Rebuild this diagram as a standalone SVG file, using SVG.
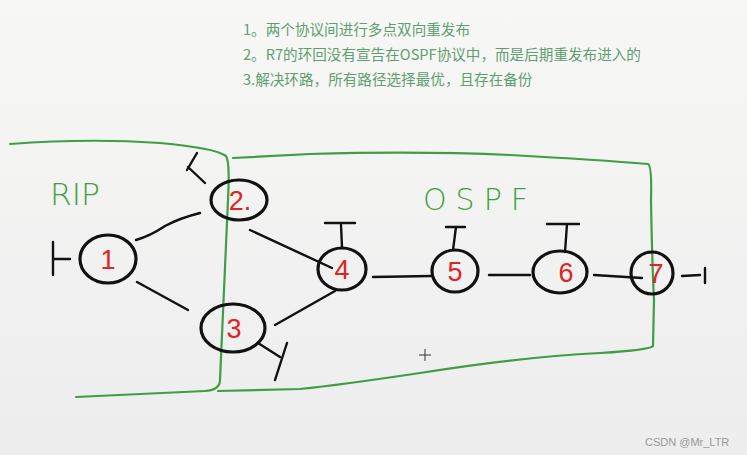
<svg xmlns="http://www.w3.org/2000/svg" width="747" height="455" viewBox="0 0 747 455">
<defs>
<linearGradient id="bg" x1="0" y1="0" x2="0" y2="1">
<stop offset="0" stop-color="#f7f7f6"/>
<stop offset="1" stop-color="#ecedec"/>
</linearGradient>
</defs>
<style>
.note{font-family:"Noto Sans CJK SC","Noto Sans",sans-serif;font-size:14.6px;fill:#5e9e70}
.area{fill:none;stroke:#3f9e44;stroke-width:2.2;stroke-linejoin:round;stroke-linecap:round}
.alabel{font-family:"DejaVu Sans",sans-serif;font-size:30px;fill:#3f9e44;font-weight:200}
.node ellipse{fill:none;stroke:#111;stroke-width:3.2}
.node text{font-family:"Liberation Sans",sans-serif;font-size:27px;fill:#e02323;text-anchor:middle}
.link{fill:none;stroke:#111;stroke-width:2.4;stroke-linecap:round}
.wm{font-family:"Liberation Sans",sans-serif;font-size:11px;fill:#999}
</style>
<rect width="747" height="455" fill="url(#bg)"/>
<g id="notes">
<text class="note" x="243" y="35">1。两个协议间进行多点双向重发布</text>
<text class="note" x="243" y="60">2。R7的环回没有宣告在OSPF协议中，而是后期重发布进入的</text>
<text class="note" x="243" y="85">3.解决环路，所有路径选择最优，且存在备份</text>
</g>
<g id="areas">
<path id="rip-area" class="area" d="M10,144 Q90,138 160,143 Q215,148 226,156 Q230,162 228,200 L220,380 Q220,390 205,391 L76,397"/>
<path id="ospf-area" class="area" d="M233,158 L310,154 Q420,151 510,155 Q600,160 648,164 Q652,166 651,200 Q652,260 654,300 L653,346 Q650,350 600,353 Q520,357 420,373 Q340,385 300,389 L218,391"/>
<text class="alabel" x="50" y="205" textLength="50" lengthAdjust="spacingAndGlyphs">RIP</text>
<text class="alabel" x="423" y="210" textLength="105" lengthAdjust="spacing">OSPF</text>
</g>
<g id="connectors">
<path class="link" d="M136,240 Q150,236 165,226 Q180,218 200,213"/>
<path class="link" d="M137,282 L188,310"/>
<path class="link" d="M250,230 L332,268"/>
<path class="link" d="M275,325 L335,291"/>
<path class="link" d="M373,277 L431,276"/>
<path class="link" d="M489,275 L530,275"/>
<path class="link" d="M594,275 L642,278"/>
<path class="link" d="M682,276 L700,275 M705,268 L705,283"/>
<path class="link" d="M70,259 L53,259 M53,242 L53,275"/>
<path class="link" d="M205,183 L188,167 M187,170 L197,153"/>
<path class="link" d="M258,343 L280,357 M287,343 L275,380"/>
<path class="link" d="M342,247 L341,225 M325,223 L355,223"/>
<path class="link" d="M453,250 L456,227 M446,227 L465,227"/>
<path class="link" d="M565,252 L567,224 M547,224 L579,224"/>
</g>
<g id="r1" class="node"><ellipse cx="108" cy="259" rx="28" ry="24"/><text x="108" y="269">1</text></g>
<g id="r2" class="node"><ellipse cx="239" cy="200" rx="28" ry="20"/><text x="240" y="210">2.</text></g>
<g id="r3" class="node"><ellipse cx="233" cy="328" rx="32" ry="24"/><text x="234" y="338">3</text></g>
<g id="r4" class="node"><ellipse cx="342" cy="269" rx="24" ry="21"/><text x="342" y="279">4</text></g>
<g id="r5" class="node"><ellipse cx="455" cy="271" rx="23" ry="21"/><text x="455" y="281">5</text></g>
<g id="r6" class="node"><ellipse cx="560" cy="272" rx="27" ry="21"/><text x="566" y="282">6</text></g>
<g id="r7" class="node"><ellipse cx="652" cy="273" rx="21" ry="21"/><text x="656" y="283">7</text></g>
<path d="M425,349 L425,361 M419,355 L431,355" stroke="#333" stroke-width="1" fill="none"/>
<text class="wm" x="645" y="446">CSDN @Mr_LTR</text>
</svg>
